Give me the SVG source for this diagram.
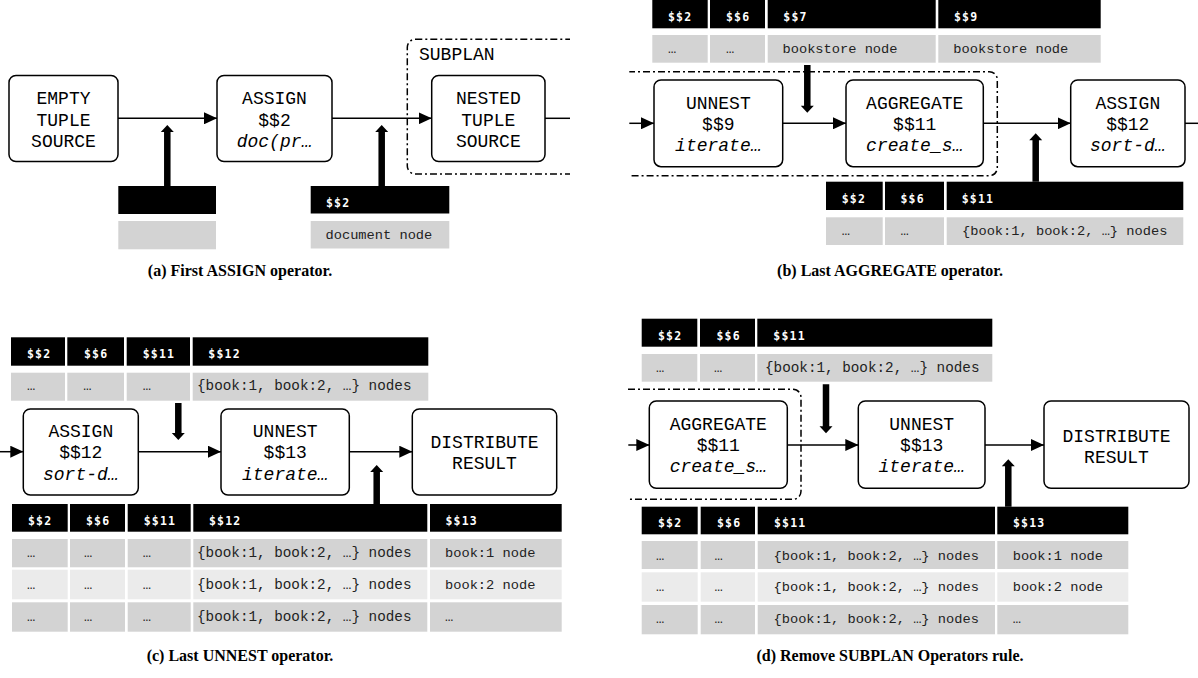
<svg xmlns="http://www.w3.org/2000/svg" width="1198" height="678" viewBox="0 0 1198 678">
<style>
.box{fill:#fff;stroke:#000;stroke-width:1.5}
.t{font-family:"Liberation Mono","Courier New",monospace;font-size:18px;text-anchor:middle;fill:#000}
.it{font-style:italic}
.hd{fill:#000}
.c1{fill:#d3d3d3}
.c2{fill:#ebebeb}
.ht{font-family:"DejaVu Sans Mono",monospace;font-weight:bold;font-size:11.5px;fill:#fff;letter-spacing:1.2px}
.ct{font-family:"Liberation Mono","Courier New",monospace;font-size:13.7px;fill:#222}
.cl{font-size:14.3px}
.ln{stroke:#000;stroke-width:1.5;fill:none}
.dd{stroke:#000;stroke-width:1.5;fill:none;stroke-dasharray:7 3 2 3}
.th{fill:#000;stroke:none}
.cap{font-family:"Liberation Serif","Times New Roman",serif;font-weight:bold;font-size:16px;text-anchor:middle;fill:#000}
</style>
<defs>
<marker id="ah" markerUnits="userSpaceOnUse" markerWidth="13" markerHeight="12" refX="13" refY="6" orient="auto"><path d="M0,0 L13,6 L0,12 z" fill="#000"/></marker>
<clipPath id="clipA"><rect x="0" y="0" width="570" height="678"/></clipPath>
<clipPath id="clipB"><rect x="629.3" y="0" width="600" height="330"/></clipPath>
<clipPath id="clipD"><rect x="628" y="300" width="600" height="378"/></clipPath>
</defs>

<!-- ===== Panel (a) ===== -->
<g id="a-subplan" clip-path="url(#clipA)">
<rect class="dd" x="407.3" y="39.3" width="300" height="134.7" rx="8"/>
<text class="t" x="419" y="60" style="text-anchor:start">SUBPLAN</text>
</g>
<g id="a-empty-tuple-source">
<rect class="box" x="9" y="75.5" width="109" height="86" rx="7"/>
<text class="t" x="63.5" y="104">EMPTY</text>
<text class="t" x="63.5" y="125.5">TUPLE</text>
<text class="t" x="63.5" y="147">SOURCE</text>
</g>
<g id="a-assign">
<rect class="box" x="217" y="75.5" width="115" height="86" rx="7"/>
<text class="t" x="274.5" y="104">ASSIGN</text>
<text class="t" x="274.5" y="125.5">$$2</text>
<text class="t it" x="274.5" y="147">doc(pr…</text>
</g>
<g id="a-nested-tuple-source">
<rect class="box" x="431.7" y="75.5" width="113.3" height="86" rx="7"/>
<text class="t" x="488.3" y="104">NESTED</text>
<text class="t" x="488.3" y="125.5">TUPLE</text>
<text class="t" x="488.3" y="147">SOURCE</text>
</g>
<g id="a-table-empty">
<rect class="hd" x="118.3" y="186" width="97.7" height="28"/>
<rect class="c1" x="118.3" y="221" width="97.7" height="28.3"/>
</g>
<g id="a-table-doc">
<rect class="hd" x="310.7" y="186" width="138.6" height="27.5"/>
<rect class="c1" x="310.7" y="221" width="138.6" height="27.5"/>
<text class="ht" x="326" y="206.7">$$2</text>
<text class="ct" x="325.5" y="238.5">document node</text>
</g>

<!-- ===== Panel (b) ===== -->
<g id="b-subplan" clip-path="url(#clipB)">
<rect class="dd" x="560" y="71.7" width="437.3" height="104" rx="8"/>
</g>
<g id="b-unnest">
<rect class="box" x="654" y="80" width="128.7" height="86.7" rx="7"/>
<text class="t" x="718.3" y="108.5">UNNEST</text>
<text class="t" x="718.3" y="129.8">$$9</text>
<text class="t it" x="718.3" y="151.2">iterate…</text>
</g>
<g id="b-aggregate">
<rect class="box" x="846" y="80" width="137.3" height="86.7" rx="7"/>
<text class="t" x="914.7" y="108.5">AGGREGATE</text>
<text class="t" x="914.7" y="129.8">$$11</text>
<text class="t it" x="914.7" y="151.2">create_s…</text>
</g>
<g id="b-assign">
<rect class="box" x="1070.7" y="80" width="114.3" height="86.7" rx="7"/>
<text class="t" x="1127.8" y="108.5">ASSIGN</text>
<text class="t" x="1127.8" y="129.8">$$12</text>
<text class="t it" x="1127.8" y="151.2">sort-d…</text>
</g>
<g id="b-table-top">
<rect class="hd" x="652.3" y="0" width="55.4" height="28.3"/>
<rect class="hd" x="710" y="0" width="55" height="28.3"/>
<rect class="hd" x="767.7" y="0" width="168" height="28.3"/>
<rect class="hd" x="938.3" y="0" width="162.4" height="28.3"/>
<rect class="c1" x="652.3" y="35" width="55.4" height="27.7"/>
<rect class="c1" x="710" y="35" width="55" height="27.7"/>
<rect class="c1" x="767.7" y="35" width="168" height="27.7"/>
<rect class="c1" x="938.3" y="35" width="162.4" height="27.7"/>
<text class="ht" x="668" y="20.5">$$2</text>
<text class="ht" x="726" y="20.5">$$6</text>
<text class="ht" x="783.3" y="20.5">$$7</text>
<text class="ht" x="954" y="20.5">$$9</text>
<text class="ct" x="668" y="52.5">…</text>
<text class="ct" x="726" y="52.5">…</text>
<text class="ct" x="782.5" y="52.5">bookstore node</text>
<text class="ct" x="953.3" y="52.5">bookstore node</text>
</g>
<g id="b-table-bottom">
<rect class="hd" x="826" y="181.7" width="56.7" height="28.3"/>
<rect class="hd" x="885" y="181.7" width="59" height="28.3"/>
<rect class="hd" x="946.7" y="181.7" width="236.6" height="28.3"/>
<rect class="c1" x="826" y="217.3" width="56.7" height="27.7"/>
<rect class="c1" x="885" y="217.3" width="59" height="27.7"/>
<rect class="c1" x="946.7" y="217.3" width="236.6" height="27.7"/>
<text class="ht" x="841.7" y="202.7">$$2</text>
<text class="ht" x="900.5" y="202.7">$$6</text>
<text class="ht" x="961.7" y="202.7">$$11</text>
<text class="ct" x="841.7" y="235">…</text>
<text class="ct" x="900.5" y="235">…</text>
<text class="ct" x="962" y="235">{book:1, book:2, …} nodes</text>
</g>

<!-- ===== Panel (c) ===== -->
<g id="c-assign">
<rect class="box" x="23.3" y="409" width="115" height="86" rx="7"/>
<text class="t" x="80.8" y="437">ASSIGN</text>
<text class="t" x="80.8" y="458.3">$$12</text>
<text class="t it" x="80.8" y="479.6">sort-d…</text>
</g>
<g id="c-unnest">
<rect class="box" x="221" y="409" width="128.3" height="86" rx="7"/>
<text class="t" x="285.2" y="437">UNNEST</text>
<text class="t" x="285.2" y="458.3">$$13</text>
<text class="t it" x="285.2" y="479.6">iterate…</text>
</g>
<g id="c-distribute-result">
<rect class="box" x="412.3" y="409" width="144.4" height="86" rx="7"/>
<text class="t" x="484.5" y="448.3">DISTRIBUTE</text>
<text class="t" x="484.5" y="469.3">RESULT</text>
</g>
<g id="c-table-top">
<rect class="hd" x="11" y="337.3" width="54" height="28.4"/>
<rect class="hd" x="67.3" y="337.3" width="56.7" height="28.4"/>
<rect class="hd" x="126.7" y="337.3" width="63.3" height="28.4"/>
<rect class="hd" x="192.7" y="337.3" width="235.6" height="28.4"/>
<rect class="c1" x="11" y="372.7" width="54" height="28"/>
<rect class="c1" x="67.3" y="372.7" width="56.7" height="28"/>
<rect class="c1" x="126.7" y="372.7" width="63.3" height="28"/>
<rect class="c1" x="192.7" y="372.7" width="235.6" height="28"/>
<text class="ht" x="27" y="358.3">$$2</text>
<text class="ht" x="84" y="358.3">$$6</text>
<text class="ht" x="142.7" y="358.3">$$11</text>
<text class="ht" x="208.3" y="358.3">$$12</text>
<text class="ct" x="27" y="390.2">…</text>
<text class="ct" x="83.3" y="390.2">…</text>
<text class="ct" x="142.7" y="390.2">…</text>
<text class="ct cl" x="197" y="390.2">{book:1, book:2, …} nodes</text>
</g>
<g id="c-table-bottom">
<rect class="hd" x="12" y="504" width="55.7" height="27.7"/>
<rect class="hd" x="70" y="504" width="55" height="27.7"/>
<rect class="hd" x="127.7" y="504" width="63" height="27.7"/>
<rect class="hd" x="193.3" y="504" width="234" height="27.7"/>
<rect class="hd" x="430" y="504" width="131.7" height="27.7"/>
<rect class="c1" x="12" y="539" width="55.7" height="28.3"/>
<rect class="c1" x="70" y="539" width="55" height="28.3"/>
<rect class="c1" x="127.7" y="539" width="63" height="28.3"/>
<rect class="c1" x="193.3" y="539" width="234" height="28.3"/>
<rect class="c1" x="430" y="539" width="131.7" height="28.3"/>
<rect class="c2" x="12" y="569.7" width="55.7" height="29.6"/>
<rect class="c2" x="70" y="569.7" width="55" height="29.6"/>
<rect class="c2" x="127.7" y="569.7" width="63" height="29.6"/>
<rect class="c2" x="193.3" y="569.7" width="234" height="29.6"/>
<rect class="c2" x="430" y="569.7" width="131.7" height="29.6"/>
<rect class="c1" x="12" y="602.3" width="55.7" height="29.4"/>
<rect class="c1" x="70" y="602.3" width="55" height="29.4"/>
<rect class="c1" x="127.7" y="602.3" width="63" height="29.4"/>
<rect class="c1" x="193.3" y="602.3" width="234" height="29.4"/>
<rect class="c1" x="430" y="602.3" width="131.7" height="29.4"/>
<text class="ht" x="28" y="524.8">$$2</text>
<text class="ht" x="86" y="524.8">$$6</text>
<text class="ht" x="143.7" y="524.8">$$11</text>
<text class="ht" x="209" y="524.8">$$12</text>
<text class="ht" x="445.5" y="524.8">$$13</text>
<text class="ct" x="27" y="557">…</text>
<text class="ct" x="84" y="557">…</text>
<text class="ct" x="142.7" y="557">…</text>
<text class="ct cl" x="197" y="557">{book:1, book:2, …} nodes</text>
<text class="ct" x="445" y="557">book:1 node</text>
<text class="ct" x="27" y="589">…</text>
<text class="ct" x="84" y="589">…</text>
<text class="ct" x="142.7" y="589">…</text>
<text class="ct cl" x="197" y="589">{book:1, book:2, …} nodes</text>
<text class="ct" x="445" y="589">book:2 node</text>
<text class="ct" x="27" y="621">…</text>
<text class="ct" x="84" y="621">…</text>
<text class="ct" x="142.7" y="621">…</text>
<text class="ct cl" x="197" y="621">{book:1, book:2, …} nodes</text>
<text class="ct" x="445" y="621">…</text>
</g>

<!-- ===== Panel (d) ===== -->
<g id="d-subplan" clip-path="url(#clipD)">
<rect class="dd" x="560" y="389.3" width="241" height="110" rx="8"/>
</g>
<g id="d-aggregate">
<rect class="box" x="649.3" y="401" width="138" height="87.3" rx="7"/>
<text class="t" x="718.3" y="429.7">AGGREGATE</text>
<text class="t" x="718.3" y="451">$$11</text>
<text class="t it" x="718.3" y="472.3">create_s…</text>
</g>
<g id="d-unnest">
<rect class="box" x="858.3" y="401" width="126.7" height="87.3" rx="7"/>
<text class="t" x="921.7" y="429.7">UNNEST</text>
<text class="t" x="921.7" y="451">$$13</text>
<text class="t it" x="921.7" y="472.3">iterate…</text>
</g>
<g id="d-distribute-result">
<rect class="box" x="1044" y="401" width="145" height="87.3" rx="7"/>
<text class="t" x="1116.5" y="441.7">DISTRIBUTE</text>
<text class="t" x="1116.5" y="462.7">RESULT</text>
</g>
<g id="d-table-top">
<rect class="hd" x="641.7" y="318.7" width="55.6" height="28"/>
<rect class="hd" x="700" y="318.7" width="55" height="28"/>
<rect class="hd" x="757.3" y="318.7" width="235" height="28"/>
<rect class="c1" x="641.7" y="354" width="55.6" height="27.7"/>
<rect class="c1" x="700" y="354" width="55" height="27.7"/>
<rect class="c1" x="757.3" y="354" width="235" height="27.7"/>
<text class="ht" x="658" y="339.5">$$2</text>
<text class="ht" x="716.5" y="339.5">$$6</text>
<text class="ht" x="773.3" y="339.5">$$11</text>
<text class="ct" x="656" y="371.5">…</text>
<text class="ct" x="714" y="371.5">…</text>
<text class="ct cl" x="765" y="371.5">{book:1, book:2, …} nodes</text>
</g>
<g id="d-table-bottom">
<rect class="hd" x="641.7" y="506.7" width="56" height="27.6"/>
<rect class="hd" x="700.7" y="506.7" width="54.3" height="27.6"/>
<rect class="hd" x="757.7" y="506.7" width="237.3" height="27.6"/>
<rect class="hd" x="997.3" y="506.7" width="131" height="27.6"/>
<rect class="c1" x="641.7" y="541" width="56" height="28"/>
<rect class="c1" x="700.7" y="541" width="54.3" height="28"/>
<rect class="c1" x="757.7" y="541" width="237.3" height="28"/>
<rect class="c1" x="997.3" y="541" width="131" height="28"/>
<rect class="c2" x="641.7" y="572.3" width="56" height="29.4"/>
<rect class="c2" x="700.7" y="572.3" width="54.3" height="29.4"/>
<rect class="c2" x="757.7" y="572.3" width="237.3" height="29.4"/>
<rect class="c2" x="997.3" y="572.3" width="131" height="29.4"/>
<rect class="c1" x="641.7" y="605" width="56" height="29.3"/>
<rect class="c1" x="700.7" y="605" width="54.3" height="29.3"/>
<rect class="c1" x="757.7" y="605" width="237.3" height="29.3"/>
<rect class="c1" x="997.3" y="605" width="131" height="29.3"/>
<text class="ht" x="658" y="527.3">$$2</text>
<text class="ht" x="717" y="527.3">$$6</text>
<text class="ht" x="774" y="527.3">$$11</text>
<text class="ht" x="1013" y="527.3">$$13</text>
<text class="ct" x="656" y="559.5">…</text>
<text class="ct" x="714.5" y="559.5">…</text>
<text class="ct" x="773.5" y="559.5">{book:1, book:2, …} nodes</text>
<text class="ct" x="1012.7" y="559.5">book:1 node</text>
<text class="ct" x="656" y="591">…</text>
<text class="ct" x="714.5" y="591">…</text>
<text class="ct" x="773.5" y="591">{book:1, book:2, …} nodes</text>
<text class="ct" x="1012.7" y="591">book:2 node</text>
<text class="ct" x="656" y="623">…</text>
<text class="ct" x="714.5" y="623">…</text>
<text class="ct" x="773.5" y="623">{book:1, book:2, …} nodes</text>
<text class="ct" x="1012.7" y="623">…</text>
</g>

<!-- ===== Connectors ===== -->
<g id="connectors">
<line class="ln" x1="118" y1="118.3" x2="217" y2="118.3" marker-end="url(#ah)"/>
<line class="ln" x1="332" y1="118.3" x2="431.7" y2="118.3" marker-end="url(#ah)"/>
<line class="ln" x1="545" y1="118.3" x2="570" y2="118.3"/>
<path class="th" d="M164.05,186 L164.05,132 L160.8,132 L167.3,125 L173.8,132 L170.55,132 L170.55,186 Z"/>
<path class="th" d="M378.45,186 L378.45,132 L375.2,132 L381.7,125 L388.2,132 L384.95,132 L384.95,186 Z"/>

<line class="ln" x1="629.3" y1="123.3" x2="654" y2="123.3" marker-end="url(#ah)"/>
<line class="ln" x1="782.7" y1="123.3" x2="846" y2="123.3" marker-end="url(#ah)"/>
<line class="ln" x1="983.3" y1="123.3" x2="1070.7" y2="123.3" marker-end="url(#ah)"/>
<line class="ln" x1="1185" y1="123.3" x2="1198" y2="123.3"/>
<path class="th" d="M804.05,65 L804.05,105.7 L800.8,105.7 L807.3,112.7 L813.8,105.7 L810.55,105.7 L810.55,65 Z"/>
<path class="th" d="M1032.45,181.7 L1032.45,140.3 L1029.2,140.3 L1035.7,133.3 L1042.2,140.3 L1038.95,140.3 L1038.95,181.7 Z"/>

<line class="ln" x1="0" y1="451.7" x2="23.3" y2="451.7" marker-end="url(#ah)"/>
<line class="ln" x1="138.3" y1="451.7" x2="221" y2="451.7" marker-end="url(#ah)"/>
<line class="ln" x1="349.3" y1="451.7" x2="412.3" y2="451.7" marker-end="url(#ah)"/>
<path class="th" d="M175.05,403 L175.05,433 L171.8,433 L178.3,440 L184.8,433 L181.55,433 L181.55,403 Z"/>
<path class="th" d="M373.45,504 L373.45,472 L370.2,472 L376.7,465 L383.2,472 L379.95,472 L379.95,504 Z"/>

<line class="ln" x1="628.3" y1="445" x2="649.3" y2="445" marker-end="url(#ah)"/>
<line class="ln" x1="787.3" y1="445" x2="858.3" y2="445" marker-end="url(#ah)"/>
<line class="ln" x1="985" y1="445" x2="1044" y2="445" marker-end="url(#ah)"/>
<path class="th" d="M822.75,384.3 L822.75,426.3 L819.5,426.3 L826,433.3 L832.5,426.3 L829.25,426.3 L829.25,384.3 Z"/>
<path class="th" d="M1005.05,506.7 L1005.05,466.3 L1001.8,466.3 L1008.3,459.3 L1014.8,466.3 L1011.55,466.3 L1011.55,506.7 Z"/>
</g>

<!-- ===== Captions ===== -->
<g id="captions">
<text class="cap" x="240" y="276">(a) First ASSIGN operator.</text>
<text class="cap" x="890" y="276">(b) Last AGGREGATE operator.</text>
<text class="cap" x="240" y="661">(c) Last UNNEST operator.</text>
<text class="cap" x="890" y="661">(d) Remove SUBPLAN Operators rule.</text>
</g>
</svg>
